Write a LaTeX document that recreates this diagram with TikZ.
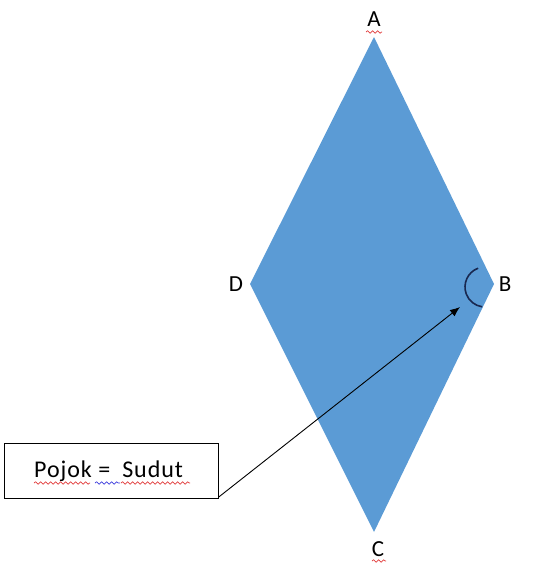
\documentclass[tikz,border=0pt]{standalone}
\usepackage{fontspec}
\setmainfont{Carlito}
\usetikzlibrary{arrows.meta,decorations.pathmorphing}
\definecolor{rhombfill}{RGB}{91,155,213}
\definecolor{arccol}{RGB}{25,40,80}
\definecolor{squigred}{RGB}{225,60,60}
\definecolor{squigblue}{RGB}{60,60,220}
\tikzset{
  lbl/.style={font=\fontsize{23}{26}\selectfont, inner sep=0pt},
  boxtext/.style={font=\fontsize{24}{28}\selectfont\addfontfeature{LetterSpace=4}, inner sep=0pt},
  squig/.style={decorate, decoration={snake, amplitude=1.2pt, segment length=5pt}, line width=0.7pt},
}
\begin{document}
\begin{tikzpicture}[x=1pt,y=-1pt]
\useasboundingbox (0,0) rectangle (535,565);
% rhombus
\coordinate (A) at (374,37);
\coordinate (B) at (494,284);
\coordinate (C) at (374,532);
\coordinate (D) at (250,284);
\fill[rhombfill] (A) -- (B) -- (C) -- (D) -- cycle;
% angle arc at B
\coordinate (arcc) at (485,287);
\draw[arccol, line width=1.6pt] ([shift={(250:20)}]arcc) arc[start angle=250, end angle=98, radius=20];
% labels
\node[lbl] (la) at (374,19) {A};
\node[lbl] (lb) at (505,284) {B};
\node[lbl] (lc) at (378,549) {C};
\node[lbl] (ld) at (236,284) {D};
% box
\node[draw, line width=0.9pt, minimum width=214pt, minimum height=55pt, inner sep=0pt, anchor=north west] (box) at (4,443) {};
\node[boxtext, anchor=base west] (txt) at (34,477) {Pojok =\hspace{12pt}Sudut};
\coordinate (tip) at (460,307);
\draw[line width=0.9pt, -{Latex[length=10pt,width=8pt]}] (box.south east) ++(0,-2) -- (tip);
% spell-check squiggles
\draw[squig, squigred] (366,32) -- (382,32);
\draw[squig, squigred] (372,561) -- (386,561);
\draw[squig, squigred] (34,483) -- (90,483);
\draw[squig, squigblue] (95,483) -- (120,483);
\draw[squig, squigred] (121,483) -- (190,483);
\end{tikzpicture}
\end{document}
